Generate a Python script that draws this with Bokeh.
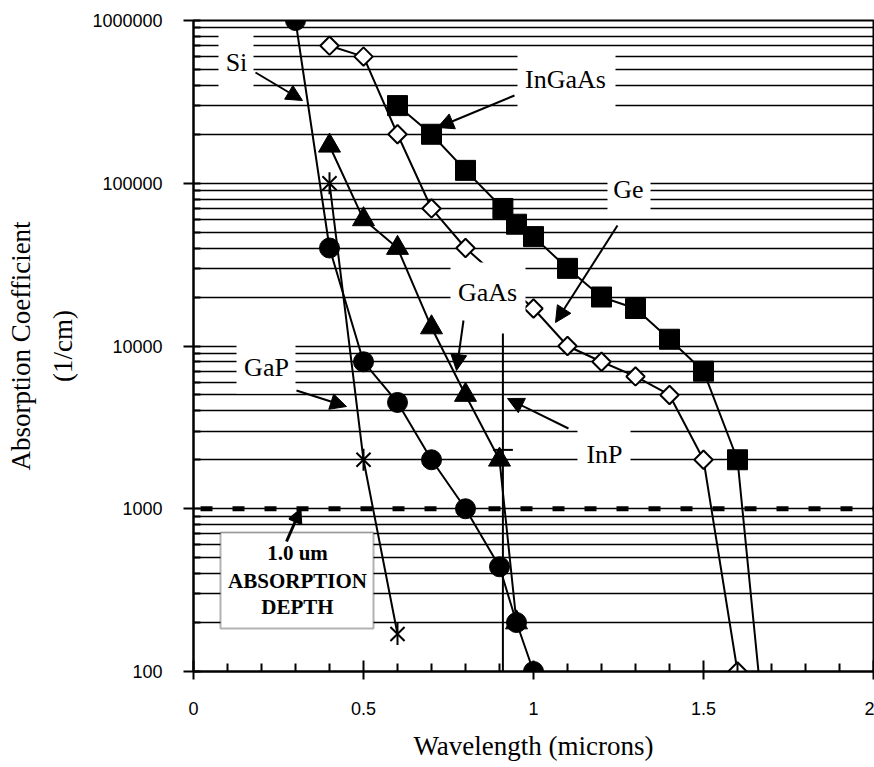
import math
from bokeh.plotting import figure
from bokeh.models import (Range1d, FixedTicker, CustomJSTickFormatter, BoxAnnotation,
                          Label, Arrow, NormalHead)
from bokeh.embed import file_html
from bokeh.resources import INLINE

# ---------------- data ----------------
si_x = [0.3, 0.4, 0.5, 0.6, 0.7, 0.8, 0.9, 0.95, 1.0]
si_y = [1000000, 40000, 8000, 4500, 2000, 1000, 440, 200, 100]

ingaas_x = [0.6, 0.7, 0.8, 0.91, 0.95, 1.0, 1.1, 1.2, 1.3, 1.4, 1.5, 1.6, 1.665]
ingaas_y = [300000, 200000, 120000, 70000, 56000, 47000, 30000, 20000, 17000, 11000, 7000, 2000, 85]

ge_x = [0.4, 0.5, 0.6, 0.7, 0.8, 1.0, 1.1, 1.2, 1.3, 1.4, 1.5, 1.6]
ge_y = [700000, 600000, 200000, 70000, 40000, 17000, 10000, 8000, 6500, 5000, 2000, 100]

gaas_x = [0.4, 0.5, 0.6, 0.7, 0.8, 0.9, 0.95]
gaas_y = [170000, 60000, 40000, 13000, 5000, 2000, 200]

gap_x = [0.4, 0.5, 0.6]
gap_y = [100000, 2000, 170]

inp_x = [0.91, 0.91, 0.91]
inp_y = [20000, 2300, 85]

depth_x = [0, 2]
depth_y = [1000, 1000]

x_major = [0, 0.5, 1, 1.5, 2]
x_minor = [0.1, 0.2, 0.3, 0.4, 0.6, 0.7, 0.8, 0.9, 1.1, 1.2, 1.3, 1.4, 1.6, 1.7, 1.8, 1.9]
y_major = [100, 1000, 10000, 100000, 1000000]
y_minor = [m * d for d in [100, 1000, 10000, 100000] for m in range(2, 10)]

x_title = "Wavelength (microns)"
y_title = "Absorption Coefficient\n(1/cm)"

# ---------------- figure ----------------
p = figure(width=874, height=767, x_range=Range1d(0, 2), y_range=Range1d(100, 1000000),
           y_axis_type="log", output_backend="svg", toolbar_location=None,
           min_border_left=193, min_border_right=1, min_border_top=20, min_border_bottom=96)
p.background_fill_color = "white"
p.border_fill_color = "white"
p.outline_line_color = "black"
p.outline_line_width = 2

yt = FixedTicker(ticks=y_major, minor_ticks=y_minor)
xt = FixedTicker(ticks=x_major, minor_ticks=x_minor)
p.yaxis.ticker = yt
p.xaxis.ticker = xt
p.ygrid.ticker = yt
p.xgrid.visible = False
p.ygrid.grid_line_color = "black"
p.ygrid.grid_line_width = 1.6
p.ygrid.minor_grid_line_color = "black"
p.ygrid.minor_grid_line_width = 1.6

for ax_ in (p.xaxis, p.yaxis):
    ax_.axis_line_color = "black"
    ax_.axis_line_width = 2
    ax_.major_tick_line_color = "black"
    ax_.major_tick_line_width = 2
    ax_.minor_tick_line_color = "black"
    ax_.minor_tick_line_width = 2
    ax_.major_label_text_font = "Liberation Sans"
    ax_.major_label_text_font_size = "18px"
    ax_.major_label_text_color = "black"
    ax_.axis_label_text_font = "Liberation Serif"
    ax_.axis_label_text_font_size = "27px"
    ax_.axis_label_text_font_style = "normal"
    ax_.axis_label_text_color = "black"

p.yaxis.major_tick_out = 10
p.yaxis.major_tick_in = 7
p.yaxis.minor_tick_out = 0
p.yaxis.minor_tick_in = 7
p.yaxis.major_label_standoff = 21
p.yaxis.formatter = CustomJSTickFormatter(code="return tick.toFixed(0);")
p.yaxis.axis_label = y_title
p.yaxis.axis_label_text_line_height = 1.4
p.yaxis.axis_label_standoff = 11

p.xaxis.major_tick_out = 8
p.xaxis.major_tick_in = 11
p.xaxis.minor_tick_out = 0
p.xaxis.minor_tick_in = 8
p.xaxis.major_label_standoff = 22
p.xaxis.formatter = CustomJSTickFormatter(code="return tick.toString();")
p.xaxis.axis_label = x_title
p.xaxis.axis_label_standoff = 13

# 1.0 um absorption depth line
p.line(depth_x, depth_y, line_color="black", line_width=5, line_dash="12 20", line_dash_offset=25)

LW = 2
# Si
p.line(si_x, si_y, line_color="black", line_width=LW)
p.scatter(si_x, si_y, marker="circle", size=20, fill_color="black", line_color="black")
# InGaAs
p.line(ingaas_x, ingaas_y, line_color="black", line_width=LW)
p.scatter(ingaas_x, ingaas_y, marker="square", size=20, fill_color="black", line_color="black")
# Ge
p.line(ge_x, ge_y, line_color="black", line_width=LW)
p.scatter(ge_x, ge_y, marker="square", angle=math.pi / 4, size=13, fill_color="white",
          line_color="black", line_width=2)
# GaAs
p.line(gaas_x, gaas_y, line_color="black", line_width=LW)
p.scatter(gaas_x, gaas_y, marker="triangle", size=22, fill_color="black", line_color="black")
# GaP
p.line(gap_x, gap_y, line_color="black", line_width=LW)
p.scatter(gap_x, gap_y, marker="x", size=20, line_color="black", line_width=2)
p.scatter(gap_x, gap_y, marker="dash", angle=math.pi / 2, size=22, line_color="black", line_width=2)
# InP
p.line(inp_x, inp_y, line_color="black", line_width=LW)
p.scatter(inp_x, inp_y, marker="dash", size=20, line_color="black", line_width=2)


# ---------------- annotations (placed in reference pixel space) ----------------
def ax(X):
    return (X - 193) / 340.0


def ay(Y):
    return 10 ** (2 + (671 - Y) / 162.75)


boxes = [  # (X0, X1, Y0, Y1)
    (218, 253, 33, 88),     # Si
    (517, 615, 53, 107),    # InGaAs
    (607, 650, 167, 212),   # Ge
    (450, 525, 262, 333),   # GaAs
    (236, 295, 340, 393),   # GaP
    (577, 630, 420, 480),   # InP
]
for X0, X1, Y0, Y1 in boxes:
    p.add_layout(BoxAnnotation(left=ax(X0), right=ax(X1), top=ay(Y0), bottom=ay(Y1),
                               fill_color="white", fill_alpha=1, line_alpha=0))
p.add_layout(BoxAnnotation(left=ax(220), right=ax(373), top=ay(532), bottom=ay(628),
                           fill_color="white", fill_alpha=1, line_color="black", line_width=2))

arrows = [  # (Xs, Ys, Xe, Ye)
    (255, 72, 302, 100),
    (514, 95, 437, 127),
    (617, 225, 555, 322),
    (463, 320, 456, 370),
    (296, 390, 346, 406),
    (568, 428, 507, 398),
]
for Xs, Ys, Xe, Ye in arrows:
    p.add_layout(Arrow(end=NormalHead(size=16, fill_color="black", line_color="black"),
                       x_start=ax(Xs), y_start=ay(Ys), x_end=ax(Xe), y_end=ay(Ye),
                       line_color="black", line_width=2))
p.add_layout(Arrow(end=NormalHead(size=13, fill_color="black", line_color="black", line_width=2),
                   x_start=ax(286), y_start=ay(541), x_end=ax(300), y_end=ay(509),
                   line_color="black", line_width=3))

labels = [  # (text, X, Y)
    ("Si", 236, 62),
    ("InGaAs", 565, 79),
    ("Ge", 628, 189),
    ("GaAs", 487, 292),
    ("GaP", 266, 367),
    ("InP", 604, 454),
]
for t, X, Y in labels:
    p.add_layout(Label(x=ax(X), y=ay(Y), text=t, text_font="Liberation Serif",
                       text_font_size="26px", text_align="center", text_baseline="middle",
                       text_color="black"))

for t, Y in [("1.0 um", 552), ("ABSORPTION", 580), ("DEPTH", 606)]:
    p.add_layout(Label(x=ax(297), y=ay(Y), text=t, text_font="Liberation Serif",
                       text_font_size="21px", text_font_style="bold", text_align="center",
                       text_baseline="middle", text_color="black"))

open("out.html", "w").write(file_html(p, INLINE))
